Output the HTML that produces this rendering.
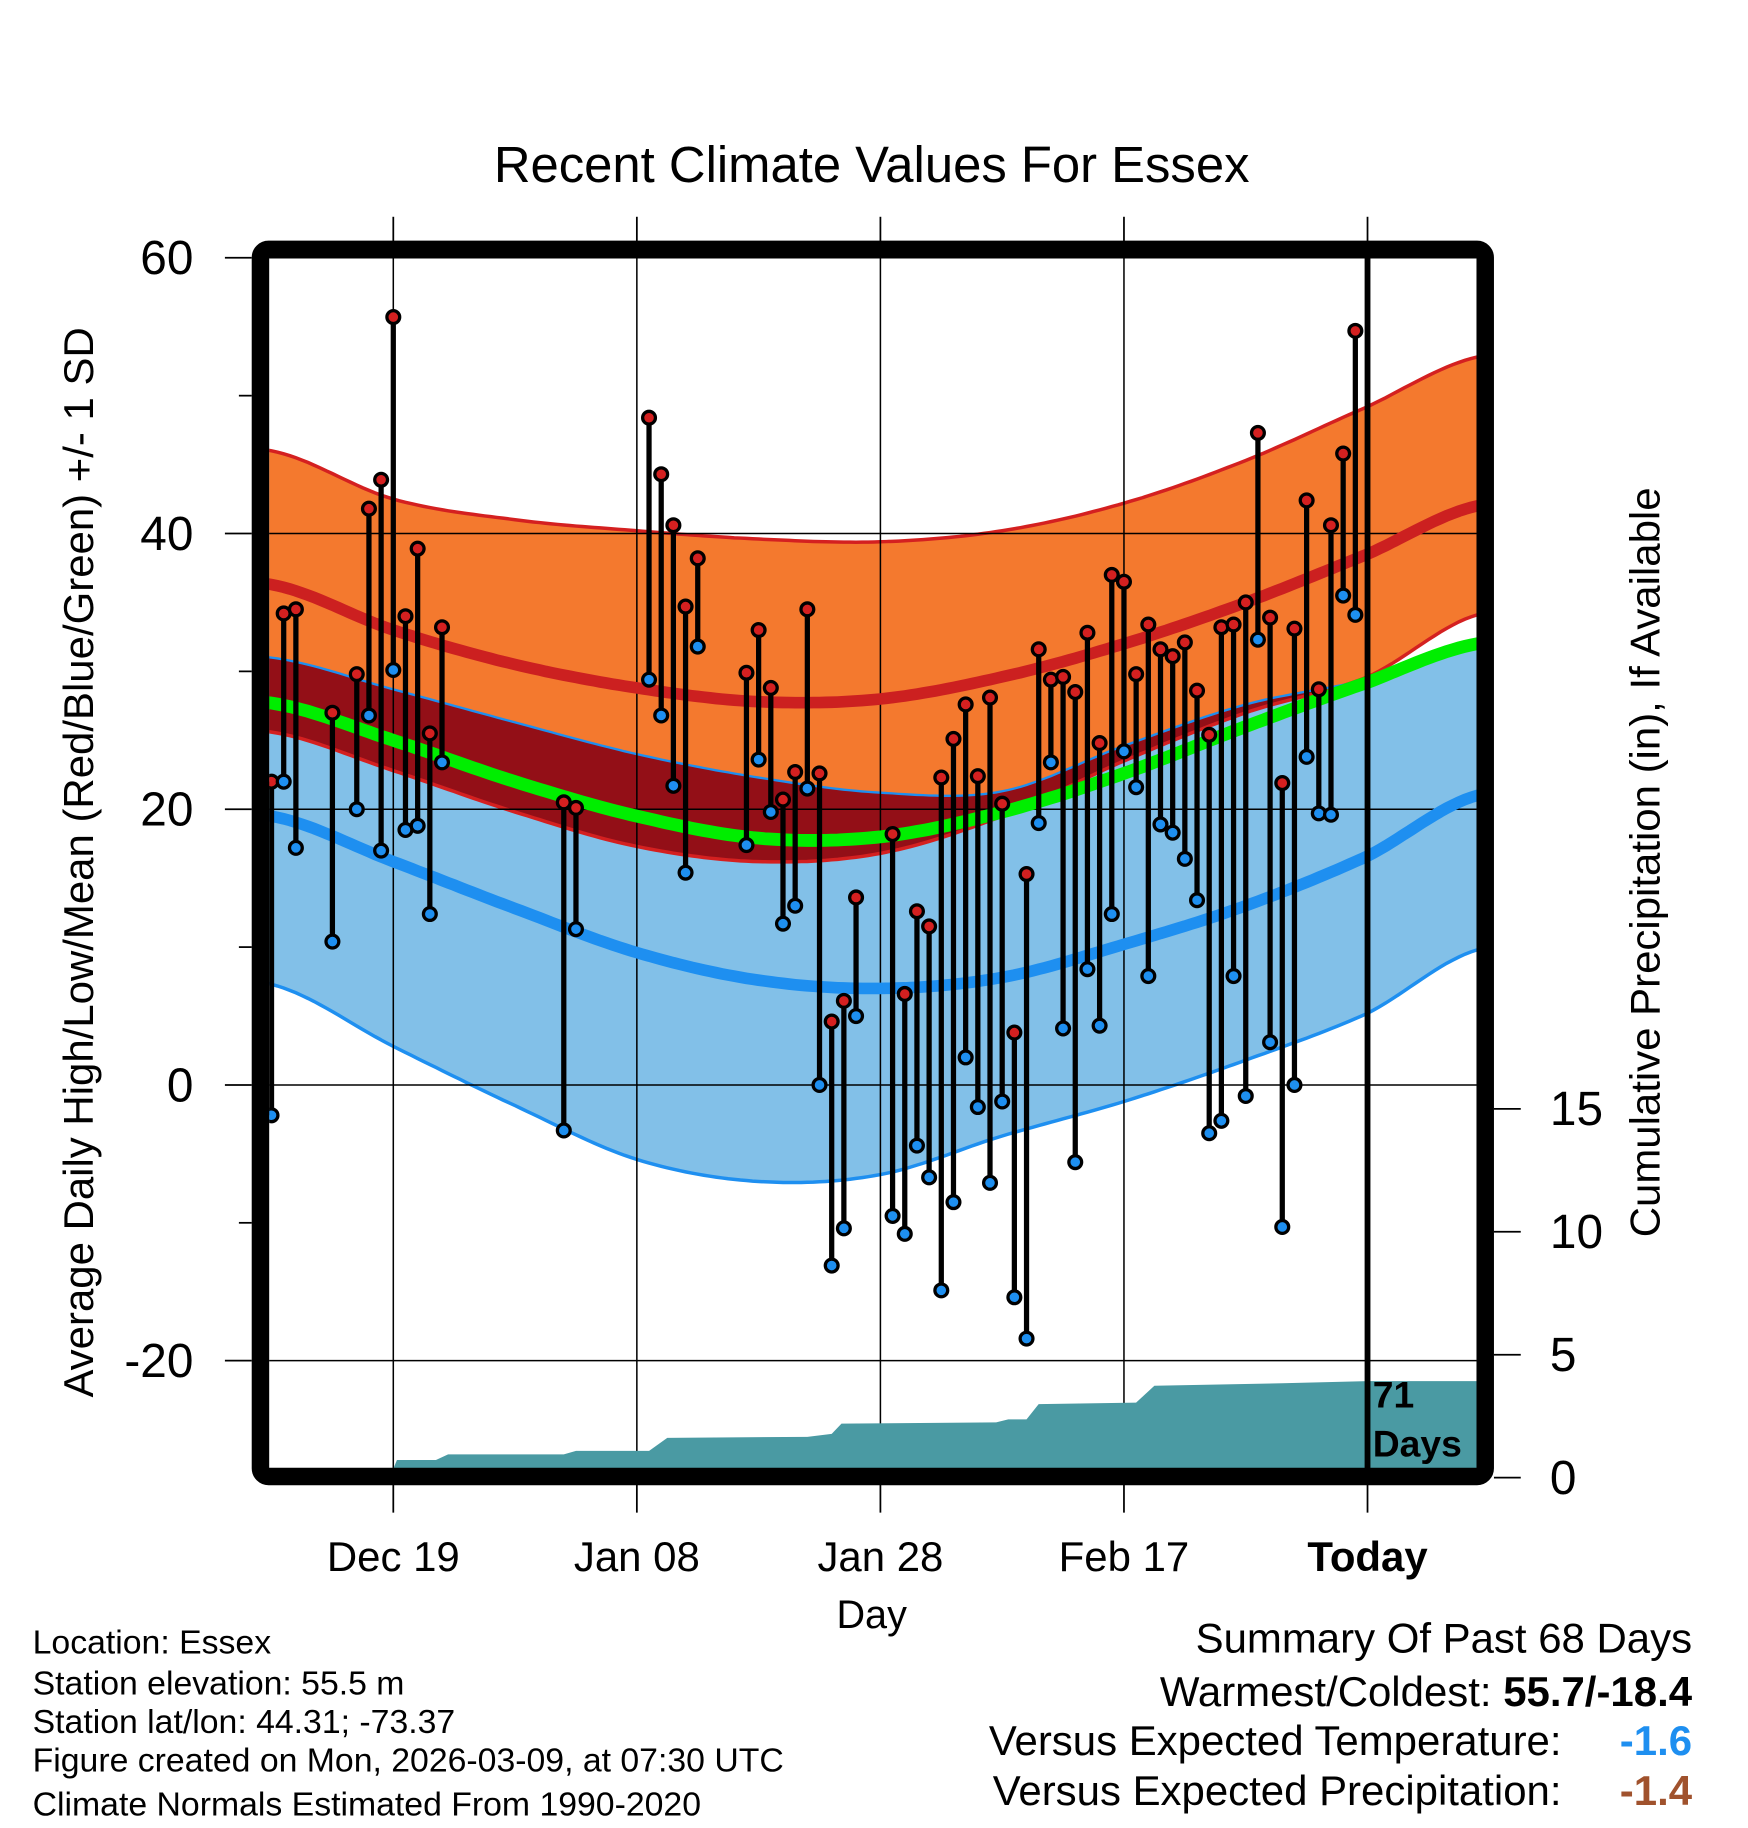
<!DOCTYPE html>
<html><head><meta charset="utf-8"><style>
html,body{margin:0;padding:0;background:#fff;}
svg{display:block;font-family:"Liberation Sans",Arial,sans-serif;}
</style></head><body>
<svg id="chart" xmlns="http://www.w3.org/2000/svg" width="1748" height="1828" viewBox="0 0 1500 1568.6">
<rect x="0" y="0" width="1500" height="1568.6" fill="#fff"/>
<text x="748" y="156" font-size="43.6" text-anchor="middle">Recent Climate Values For Essex</text>
<defs><clipPath id="plotclip"><rect x="231" y="221" width="1036" height="1039"/></clipPath></defs>
<g id="bands" clip-path="url(#plotclip)"></g>
<g id="grid"></g>
<g id="lines" clip-path="url(#plotclip)"></g>
<g id="precip" clip-path="url(#plotclip)"></g>
<g id="marks" clip-path="url(#plotclip)"></g>
<g id="axes"></g>
<text transform="translate(80,740) rotate(-90)" font-size="36" text-anchor="middle">Average Daily High/Low/Mean (Red/Blue/Green) +/- 1 SD</text>
<text transform="translate(1424,740) rotate(-90)" font-size="36" text-anchor="middle">Cumulative Precipitation (in), If Available</text>
<text x="748" y="1397" font-size="34" text-anchor="middle">Day</text>
<g font-size="29">
<text x="28" y="1419">Location: Essex</text>
<text x="28" y="1454">Station elevation: 55.5 m</text>
<text x="28" y="1487">Station lat/lon: 44.31; -73.37</text>
<text x="28" y="1520">Figure created on Mon, 2026-03-09, at 07:30 UTC</text>
<text x="28" y="1558">Climate Normals Estimated From 1990-2020</text>
</g>
<g font-size="36">
<text x="1452" y="1418" text-anchor="end">Summary Of Past 68 Days</text>
<text x="1452" y="1464" text-anchor="end">Warmest/Coldest: <tspan font-weight="bold">55.7/-18.4</tspan></text>
<text x="1340" y="1506" text-anchor="end">Versus Expected Temperature:</text>
<text x="1452" y="1506" text-anchor="end" font-weight="bold" fill="#1e8ff0">-1.6</text>
<text x="1340" y="1549" text-anchor="end">Versus Expected Precipitation:</text>
<text x="1452" y="1549" text-anchor="end" font-weight="bold" fill="#a0522d">-1.4</text>
</g>
</svg>
<script>
// ---- data ----
const normDays=[0,10,20,30,40,50,60,70,80,90,99];
const highPlusSD=[46.0,42.5,41.0,40.2,39.6,39.4,40.2,42.2,45.3,49.2,52.8];
const normHigh=[36.3,33.0,30.5,28.8,27.8,28.0,29.6,32.0,35.0,38.5,42.0];
const highMinusSD=[25.6,22.8,19.8,17.3,16.2,16.8,19.5,23.5,27.0,29.6,34.1];
const meanTemp=[27.7,25.0,22.0,19.5,17.9,18.0,19.8,22.6,26.0,29.2,32.0];
const lowPlusSD=[31.0,28.7,26.3,24.0,22.3,21.2,21.3,24.6,27.6,29.4,31.8];
const normLow=[19.5,16.2,12.8,9.6,7.6,7.0,7.8,10.2,13.0,16.6,21.0];
const lowMinusSD=[7.3,2.8,-1.5,-5.4,-7.0,-6.5,-3.7,-1.2,1.8,5.2,9.8];
const obsDays=[0,1,2,5,7,8,9,10,11,12,13,14,24,25,31,32,33,34,35,39,40,41,42,43,44,45,46,47,48,51,52,53,54,55,56,57,58,59,60,61,62,63,64,65,66,67,68,69,70,71,72,73,74,75,76,77,78,79,80,81,82,83,84,85,86,87,88,89];
const obsHigh=[22.0,34.2,34.5,27.0,29.8,41.8,43.9,55.7,34.0,38.9,25.5,33.2,20.5,20.1,48.4,44.3,40.6,34.7,38.2,29.9,33.0,28.8,20.7,22.7,34.5,22.6,4.6,6.1,13.6,18.2,6.6,12.6,11.5,22.3,25.1,27.6,22.4,28.1,20.4,3.8,15.3,31.6,29.4,29.6,28.5,32.8,24.8,37.0,36.5,29.8,33.4,31.6,31.1,32.1,28.6,25.4,33.2,33.4,35.0,47.3,33.9,21.9,33.1,42.4,28.7,40.6,45.8,54.7];
const obsLow=[-2.2,22.0,17.2,10.4,20.0,26.8,17.0,30.1,18.5,18.8,12.4,23.4,-3.3,11.3,29.4,26.8,21.7,15.4,31.8,17.4,23.6,19.8,11.7,13.0,21.5,0.0,-13.1,-10.4,5.0,-9.5,-10.8,-4.4,-6.7,-14.9,-8.5,2.0,-1.6,-7.1,-1.2,-15.4,-18.4,19.0,23.4,4.1,-5.6,8.4,4.3,12.4,24.2,21.6,7.9,18.9,18.3,16.4,13.4,-3.5,-2.6,7.9,-0.8,32.3,3.1,-10.3,0.0,23.8,19.7,19.6,35.5,34.1];
const precipDays=[-0.3,9.7,10.3,13.5,14.5,24,25,31,32.5,44,46,46.8,59.5,60.5,62,63,71,72.5,83,90,99.5];
const precipCum=[0,0,0.72,0.72,0.95,0.95,1.09,1.09,1.62,1.66,1.78,2.2,2.25,2.37,2.37,2.99,3.05,3.74,3.84,3.93,3.93];
const tempTicks=[60,40,20,0,-20];
const tempMinor=[50,30,10,-10];
const precipTicks=[0,5,10,15];
const dateTickDays=[10,30,50,70,90];
const dateTickLabels=["Dec 19","Jan 08","Jan 28","Feb 17","Today"];

// ---- scales ----
const X=d=>233+10.45*d;
const Y=t=>931-11.83*t;
const YP=p=>1268-21.1*p;
const NS="http://www.w3.org/2000/svg";
function mk(tag,attrs,parent){const e=document.createElementNS(NS,tag);for(const k in attrs)e.setAttribute(k,attrs[k]);parent.appendChild(e);return e;}
function interp(arr,d){
  let i=0;while(i<normDays.length-2&&d>normDays[i+1])i++;
  const x0=normDays[i],x1=normDays[i+1];let t=(d-x0)/(x1-x0);
  const p0=arr[Math.max(i-1,0)],p1=arr[i],p2=arr[i+1],p3=arr[Math.min(i+2,arr.length-1)];
  const t2=t*t,t3=t2*t;
  return 0.5*((2*p1)+(-p0+p2)*t+(2*p0-5*p1+4*p2-p3)*t2+(-p0+3*p1-3*p2+p3)*t3);
}
const sampleDays=[];for(let d=-1;d<=100;d+=0.5)sampleDays.push(d);
function linePts(arr){return sampleDays.map(d=>X(d).toFixed(1)+","+Y(interp(arr,d)).toFixed(1));}
function bandPath(top,bot){
  const a=sampleDays.map(d=>X(d).toFixed(1)+","+Y(top(d)).toFixed(1));
  const b=sampleDays.slice().reverse().map(d=>X(d).toFixed(1)+","+Y(bot(d)).toFixed(1));
  return "M"+a.join("L")+"L"+b.join("L")+"Z";
}
const bands=document.getElementById('bands');
const grid=document.getElementById('grid');
const lines=document.getElementById('lines');
const precip=document.getElementById('precip');
const marks=document.getElementById('marks');
const axes=document.getElementById('axes');

let e;
e=mk('path',{d:bandPath(d=>interp(highPlusSD,d),d=>interp(highMinusSD,d)),fill:'#f4792e'},bands);


e=mk('path',{d:bandPath(d=>interp(lowPlusSD,d),d=>interp(lowMinusSD,d)),fill:'#82c0e8'},bands);


e=mk('path',{d:bandPath(d=>interp(lowPlusSD,d),d=>Math.min(interp(highMinusSD,d),interp(lowPlusSD,d))),fill:'#930f17'},bands);


[[highPlusSD,'#d42020',3,'high-plus-sd-edge'],[highMinusSD,'#d42020',3,'high-minus-sd-edge'],[lowPlusSD,'#1e8ff0',2,'low-plus-sd-edge'],[lowMinusSD,'#1e8ff0',3,'low-minus-sd-edge']].forEach(o=>{
  const l=mk('polyline',{points:linePts(o[0]).join(' '),fill:'none',stroke:o[1],'stroke-width':o[2]},bands);
  
  
});

tempTicks.forEach(t=>{
  const g=mk('line',{x1:231,x2:1267,y1:Y(t),y2:Y(t),stroke:'#000','stroke-width':1.3},grid);
  
  
});
dateTickDays.slice(0,4).forEach(d=>{
  const g=mk('line',{x1:X(d),x2:X(d),y1:221,y2:1260,stroke:'#000','stroke-width':1.3},grid);
  
  
});

[[meanTemp,'#00ee00',11,'mean-line'],[normHigh,'#cc2020',10,'normal-high-line'],[normLow,'#1e8ff0',10,'normal-low-line']].forEach(o=>{
  const l=mk('polyline',{points:linePts(o[0]).join(' '),fill:'none',stroke:o[1],'stroke-width':o[2]},lines);
  
  
});

let pd="M"+X(precipDays[0])+","+1261;
precipDays.forEach((d,i)=>{pd+="L"+X(d).toFixed(1)+","+YP(precipCum[i]).toFixed(1);});
pd+="L"+X(precipDays[precipDays.length-1])+",1261Z";
e=mk('path',{d:pd,fill:'#4a9aa3'},precip);



obsDays.forEach((d,i)=>{
  const x=X(d);
  const s=mk('line',{x1:x,x2:x,y1:Y(obsHigh[i]),y2:Y(obsLow[i]),stroke:'#000','stroke-width':4.5},marks);
  
  
});
obsDays.forEach((d,i)=>{
  const x=X(d);
  const h=mk('circle',{cx:x,cy:Y(obsHigh[i]),r:5.5,fill:'#d42020',stroke:'#000','stroke-width':2.8},marks);
  
  
  const l=mk('circle',{cx:x,cy:Y(obsLow[i]),r:5.5,fill:'#1e8ff0',stroke:'#000','stroke-width':2.8},marks);
  
  
});

e=mk('line',{x1:X(90),x2:X(90),y1:214,y2:1267,stroke:'#000','stroke-width':5},axes);


e=mk('text',{x:1178,y:1208,'font-size':32,'font-weight':'bold'},axes);
e.textContent='71';


e=mk('text',{x:1178,y:1250,'font-size':32,'font-weight':'bold'},axes);
e.textContent='Days';



e=mk('rect',{x:223.5,y:214,width:1051,height:1053,fill:'none',stroke:'#000','stroke-width':15,rx:7},axes);



tempTicks.forEach(t=>{
  const l=mk('line',{x1:193,x2:216,y1:Y(t),y2:Y(t),stroke:'#000','stroke-width':1.5},axes);
  
  
  const tx=mk('text',{x:166,y:Y(t)+14,'font-size':41,'text-anchor':'end'},axes);
  tx.textContent=String(t);
  
  
});
tempMinor.forEach(t=>{
  const l=mk('line',{x1:205,x2:216,y1:Y(t),y2:Y(t),stroke:'#000','stroke-width':1.5},axes);
  
  
});
precipTicks.forEach(p=>{
  const l=mk('line',{x1:1282,x2:1305,y1:YP(p),y2:YP(p),stroke:'#000','stroke-width':1.5},axes);
  
  
  const tx=mk('text',{x:1330,y:YP(p)+14,'font-size':41},axes);
  tx.textContent=String(p);
  
  
});
dateTickDays.forEach((d,i)=>{
  const t1=mk('line',{x1:X(d),x2:X(d),y1:186,y2:207,stroke:'#000','stroke-width':1.5},axes);
  
  
  const t2=mk('line',{x1:X(d),x2:X(d),y1:1274,y2:1298,stroke:'#000','stroke-width':1.5},axes);
  
  
  const tx=mk('text',{x:X(d),y:1348,'font-size':36,'text-anchor':'middle','font-weight':i===4?'bold':'normal'},axes);
  tx.textContent=dateTickLabels[i];
  
  
});
</script>
</body></html>
